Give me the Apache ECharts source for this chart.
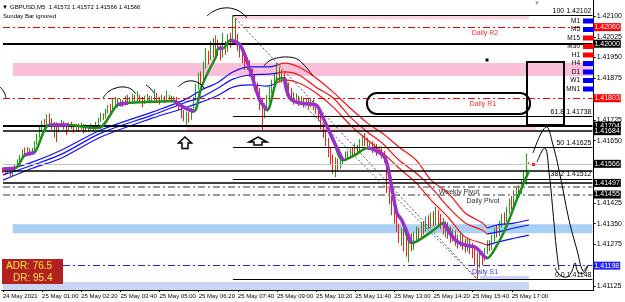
<!DOCTYPE html>
<html><head><meta charset="utf-8">
<script src="https://cdn.jsdelivr.net/npm/echarts@6/dist/echarts.min.js"></script>
<style>html,body{margin:0;padding:0;background:#fff}#c{width:625px;height:302px}</style>
</head><body><div id="c"></div>
<script>
// prices are stored in points (0.00001) above BASE
const BASE = 1.41;
const tickLabels = ["24 May 2021","25 May 01:00","25 May 02:20","25 May 03:40","25 May 05:00","25 May 06:20","25 May 07:40","25 May 09:00","25 May 10:20","25 May 11:40","25 May 13:00","25 May 14:20","25 May 15:40","25 May 17:00"];
const yTickValues = [1.42100,1.42025,1.41950,1.41875,1.41725,1.41650,1.41425,1.41350,1.41275,1.41125];
// [open, close, low, high]
const candles = [
[548,540,532,552],[540,535,525,546],[535,545,530,550],[545,530,520,548],[530,538,522,544],[538,560,535,566],[560,575,555,582],[575,590,568,598],[590,612,585,618],[612,605,596,625],
[605,618,600,626],[618,608,598,622],[608,615,600,624],[615,640,610,648],[640,668,635,675],[668,690,660,705],[690,715,682,722],[715,705,695,728],[705,735,700,745],[735,720,705,748],
[720,700,690,730],[700,712,660,718],[712,690,645,716],[690,705,680,712],[705,715,698,725],[715,700,690,720],[700,695,670,708],[695,708,688,715],[708,700,692,718],[700,690,678,706],
[690,702,684,710],[702,695,682,712],[695,705,688,716],[705,690,675,710],[690,698,680,708],[698,692,682,704],[692,700,686,712],[700,695,684,706],[695,710,690,718],[710,725,705,732],
[725,740,718,750],[740,735,725,748],[735,755,730,765],[755,770,748,778],[770,762,750,782],[762,785,758,800],[785,795,778,808],[795,780,770,802],[780,790,772,800],[790,782,772,796],
[782,800,778,812],[800,790,780,815],[790,798,785,808],[798,805,790,820],[805,795,785,815],[795,808,790,828],[808,800,788,815],[800,790,770,808],[790,798,782,812],[798,805,792,818],
[805,792,785,812],[792,800,785,810],[800,810,795,835],[810,798,790,822],[798,795,780,808],[795,805,790,815],[805,795,785,812],[795,800,788,830],[800,806,792,815],[806,795,788,812],
[795,802,790,810],[802,785,775,808],[785,770,760,790],[770,755,730,775],[755,740,720,760],[740,748,705,755],[748,735,715,752],[735,760,725,768],[760,800,755,808],[800,845,795,855],
[845,880,835,895],[880,870,850,900],[870,920,865,935],[920,960,910,985],[960,945,925,975],[945,985,940,1010],[985,970,950,1020],[970,1000,960,1030],[1000,975,955,1015],[975,960,940,1000],
[960,990,950,1040],[990,975,960,1010],[975,1010,970,1035],[1010,1000,985,1040],[1000,1080,995,1102],[1080,1020,1010,1090],[1020,990,975,1035],[990,965,950,1000],[965,950,930,975],[950,925,905,960],
[925,935,905,950],[935,900,880,940],[900,880,860,910],[880,850,830,890],[850,830,800,860],[830,790,760,840],[790,740,688,800],[740,770,730,785],[770,800,765,815],[800,830,790,845],
[830,850,820,870],[850,875,840,890],[875,900,865,930],[900,880,860,915],[880,890,860,905],[890,860,845,895],[860,850,830,870],[850,825,810,860],[825,810,790,840],[810,795,780,825],
[795,805,785,820],[805,790,775,812],[790,798,780,810],[798,785,770,805],[785,792,775,802],[792,780,765,800],[780,790,770,805],[790,775,760,798],[775,760,745,785],[760,740,720,770],
[740,700,690,750],[700,680,660,710],[680,650,630,690],[650,610,590,660],[610,580,560,625],[580,560,530,600],[560,575,518,590],[575,555,540,585],[555,570,548,580],[570,585,565,595],
[585,600,575,610],[600,590,580,612],[590,610,585,622],[610,605,595,625],[605,625,600,640],[625,615,605,635],[615,640,610,655],[640,655,630,668],[655,645,630,677],[645,635,620,660],
[635,640,625,650],[640,620,605,648],[620,630,610,640],[630,610,595,638],[610,620,600,630],[620,600,585,628],[600,580,570,612],[580,470,460,590],[470,440,420,480],[440,410,380,450],
[410,370,350,420],[370,340,320,385],[340,300,280,350],[300,320,270,335],[320,280,250,330],[280,260,230,300],[260,300,210,310],[300,270,250,315],[270,300,255,320],[300,320,290,340],
[320,310,290,335],[310,340,300,355],[340,330,310,360],[330,360,320,375],[360,345,330,380],[345,370,335,390],[370,355,340,395],[355,380,345,410],[380,365,340,400],[365,350,330,385],
[350,335,310,370],[335,345,300,360],[345,320,295,355],[320,305,280,340],[305,315,285,330],[315,295,270,325],[295,285,260,310],[285,300,265,315],[300,280,255,310],[280,270,245,295],
[270,285,250,300],[285,265,240,295],[265,250,225,280],[250,230,200,265],[230,215,146,245],[215,240,190,255],[240,225,200,250],[225,250,215,262],[250,275,240,290],[275,265,250,290],
[265,295,255,310],[295,320,285,335],[320,310,300,345],[310,345,305,360],[345,370,335,385],[370,360,345,390],[360,395,355,410],[395,420,385,440],[420,410,400,450],[410,445,405,470],
[445,470,435,480],[470,460,450,490],[460,495,455,510],[495,520,485,540],[520,572,490,604],[572,566,566,572]
];
// fast moving average (green rising / purple falling)
const fastIdx = [0,5,9,13,19,27,33,39,47,51,60,70,74,78,81,84,87,88,90,93,97,101,105,108,112,115,117,121,128,130,135,139,144,149,152,156,158,161,163,167,170,176,180,185,189,193,197,198,202,206,210,215];
const fastVal = [547,550,598,608,706,706,700,695,780,786,790,793,770,755,840,900,952,984,984,1013,995,905,796,760,869,876,807,786,778,749,652,579,598,623,616,590,525,388,363,279,290,326,352,290,272,265,229,225,272,344,435,540];
const fastFalling = [[0,5],[9,13],[19,27],[47,51],[70,78],[88,90],[93,108],[115,139],[149,167],[180,198]];
// three-line envelope (blue / red)
const envIdx = [0,12,24,40,61,74,81,88,94,101,108,112,115,121,128,135,142,149,155,162,169,175,182,189,196,198,202,209,215];
const envTop = [540,572,616,688,753,796,832,861,898,916,916,922,930,916,876,825,767,713,677,626,579,507,460,388,352,334,345,352,363];
const envMid = [526,561,601,677,742,786,807,840,872,887,890,894,898,887,843,804,735,681,641,579,532,482,410,352,326,312,319,334,345];
const envBot = [507,550,587,663,731,767,789,814,843,851,847,858,869,858,822,771,706,652,608,550,496,435,373,301,279,272,283,297,308];
const envRedRange = [112,198];
// levels
const pivotNames = ["Daily R2","Daily R1","Weekly Pivot","Daily Pivot","Daily S1"];
const pivotValues = [1.42060,1.41803,1.41483,1.41455,1.41198];
const srValues = [1.42000,1.41704,1.41684,1.41540,1.41497];
const bidValue = 1.41566;
const fibPct = ["100","61.8","50","38.2","0.0"];
const fibValues = [1.42102,1.41738,1.41625,1.41512,1.41148];
const fibFrom = 94, fibHighIdx = 94, fibLowIdx = 194;
// zones: [fromIdx, toIdx, hi, lo]
const zonePinkTop = [94,215,1.42102,1.42088];
const zonePink = [4,241,1.41930,1.41883];
const zonePinkThin = [75,218,1.41703,1.41688];
const zoneBlue = [4,241,1.41348,1.41315];
const zoneLav1 = [195,215,1.41161,1.41148];
const zoneLav2 = [0,215,1.41139,1.41110];
const tfNames = ["M1","M5","M15","M30","H1","H4","D1","W1","MN1"];
const tfUp = [true,true,false,false,false,true,true,true,true];
const adrValue = "76.5", drValue = "95.4";

const N = 242;
const P = p => +(BASE + p/100000).toFixed(5);
const cats = [];
for (let i=0;i<N;i++){ const m = 23*60+40+5*i; const d = m>=1440?25:24; const mm=m%1440; cats.push(d+' May '+String(Math.floor(mm/60)).padStart(2,'0')+':'+String(mm%60).padStart(2,'0')); }
const FONT = 'Liberation Sans';
const pts = (ix, vals, a, b) => ix.map((x,i)=>[x,P(vals[i])]).filter(d=>d[0]>=a && d[0]<=b);

const series = [];
// zones
const zones = [[zonePinkTop,'#fbd3de'],[zonePink,'#fbc0d9'],[zonePinkThin,'#fcd3df'],[zoneBlue,'#a9cff5'],[zoneLav1,'#c8d5f4'],[zoneLav2,'#c8d5f4']];
series.push({type:'line', data:[], z:1, silent:true, markArea:{silent:true, data: zones.map(z=>[{coord:[z[0][0], z[0][2]], itemStyle:{color:z[1]}},{coord:[z[0][1], z[0][3]]}])}});
// candles
series.push({type:'candlestick', z:3, barWidth:1, data: candles.map(c=>c.map(P)),
  itemStyle:{color:'#1ba01b', color0:'#ff1a1a', borderColor:'#1ba01b', borderColor0:'#ff1a1a', borderWidth:1}});
// envelope
[envTop, envMid, envBot].forEach(arr=>{
  series.push({type:'line', z:4, symbol:'none', smooth:0.3, data: pts(envIdx, arr, 0, envRedRange[0]), lineStyle:{color:'#1010ff', width:1.2}});
  series.push({type:'line', z:4, symbol:'none', smooth:0.3, data: pts(envIdx, arr, envRedRange[0], envRedRange[1]), lineStyle:{color:'#ff1010', width:1.2}});
  series.push({type:'line', z:4, symbol:'none', smooth:0.3, data: pts(envIdx, arr, envRedRange[1], 999), lineStyle:{color:'#1010ff', width:1.2}});
});
// fast MA
series.push({type:'line', z:6, symbol:'none', smooth:0.3, data: pts(fastIdx, fastVal, 0, 999), lineStyle:{color:'#1a8f1a', width:2.5}});
fastFalling.forEach(r=>{
  series.push({type:'line', z:7, symbol:'none', smooth:0.3, data: pts(fastIdx, fastVal, r[0], r[1]), lineStyle:{color:'#9932cc', width:3.5}});
});
// level lines
const dashDot = [7,3,2,3];
const box = (txt,bg)=>({show:true, position:'end', distance:1, formatter:txt, color:'#fff', backgroundColor:bg, padding:[1,1,0,1], fontSize:7, fontFamily:FONT});
const ml = [];
const full = (v, lineStyle, label)=>[{coord:[0, v], lineStyle, label},{coord:[N-1, v]}];
const pivotStyle = [['#ff0000','#ff0000',1],['#ff0000','#ff0000',1],['#7a7a7a',null,1.5],['#7a7a7a','#000',1.5],['#2323ff','#2323ff',1]];
pivotValues.forEach((v,i)=>{
  ml.push(full(v, {color:pivotStyle[i][0], type:dashDot, width:pivotStyle[i][2]}, pivotStyle[i][1]?box(v.toFixed(5),pivotStyle[i][1]):{show:false}));
});
const srWidth = [2,2,1.5,1.5,1.5];
srValues.forEach((v,i)=>{
  ml.push(full(v, {color:'#000', type:'solid', width:srWidth[i]}, i===3?{show:false}:box(v.toFixed(5),'#000')));
});
ml.push(full(bidValue, {color:'#c4c4c4', type:'solid', width:1}, box(bidValue.toFixed(5),'#000')));
fibValues.forEach((v,i)=>{
  ml.push([{coord:[fibFrom, v], lineStyle:{color:'#000', type:'solid', width:1},
    label:{show:true, position:'insideEndTop', distance:1, formatter: fibPct[i]+' '+v.toFixed(5), color:'#000', fontSize:7, fontFamily:FONT}},
    {coord:[N-1, v]}]);
});
// fibo trend lines (dotted)
ml.push([{coord:[fibHighIdx, fibValues[0]], lineStyle:{color:'#555', type:[2,2], width:1}, label:{show:false}},{coord:[fibLowIdx, fibValues[4]]}]);
ml.push([{coord:[121, P(796)], lineStyle:{color:'#555', type:[2,2], width:1}, label:{show:false}},{coord:[fibLowIdx, fibValues[4]]}]);
series.push({type:'line', data:[], z:8, silent:true, markLine:{silent:true, symbol:['none','none'], animation:false, data: ml}});

const chart = echarts.init(document.getElementById('c'), null, {width:625, height:302});
const showTick = (i)=>i%16===0 && i/16<tickLabels.length;
chart.setOption({
  animation:false,
  backgroundColor:'#fff',
  grid:{left:0, right:27, top:0, bottom:12},
  xAxis:{type:'category', data:cats, boundaryGap:true,
    axisLine:{lineStyle:{color:'#000', width:1}},
    axisTick:{show:true, length:2, alignWithLabel:true, interval:showTick, lineStyle:{color:'#000'}},
    axisLabel:{interval:showTick, formatter:(v,i)=>tickLabels[i/16]||'', align:'left', fontSize:6, margin:3, color:'#000', fontFamily:FONT, hideOverlap:false},
    splitLine:{show:false}},
  yAxis:{type:'value', position:'right', min:1.41110, max:1.42158, scale:true,
    splitLine:{show:false},
    axisLine:{show:true, lineStyle:{color:'#000'}},
    axisTick:{show:true, length:2, customValues:yTickValues, lineStyle:{color:'#000'}},
    axisLabel:{customValues:yTickValues, formatter:v=>v.toFixed(5), fontSize:7, margin:3, color:'#000', fontFamily:FONT}},
  series
});

// annotations
const yPx = v => chart.convertToPixel({yAxisIndex:0}, v);
const g = [];
const txt = (x,y,t,opt)=>g.push({type:'text', x, y, z:100, style:Object.assign({text:t, fill:'#000', fontSize:7, fontFamily:FONT, align:'left', verticalAlign:'middle'}, opt||{})});
txt(2,7,'▼',{fontSize:6});
txt(10,7,'GBPUSD,M5  1.41572 1.41572 1.41566 1.41566',{fontSize:6});
txt(3,16,'Sunday Bar ignored',{fontSize:6});
txt(537,3,'▼',{fontSize:6, fill:'#999', align:'center'});
// pivot names
const pivotTextX = [485,483,459,483,485];
const pivotTextDy = [6,6,5,7,6];
const pivotTextCol = ['#ff2a2a','#ff2a2a','#333','#333','#3a3aff'];
pivotNames.forEach((n,i)=>txt(pivotTextX[i], yPx(pivotValues[i])+pivotTextDy[i], n, {align:'center', fill:pivotTextCol[i]}));
// timeframe legend
tfNames.forEach((n,i)=>{
  const y = 21 + i*8.5;
  txt(580, y, n, {align:'right', fontSize:6.5});
  g.push({type:'rect', z:100, shape:{x:583, y:y-2.5, width:11, height:5}, style:{fill: tfUp[i]?'#0000ff':'#ff0000'}});
});
// ADR box
g.push({type:'rect', z:100, shape:{x:2, y:259, width:61, height:25}, style:{fill:'#b3201f'}});
txt(6,266,'ADR: '+adrValue,{fill:'#ffe84a', fontSize:10});
txt(13,278,'DR: '+drValue,{fill:'#ffe84a', fontSize:10});
// hand-drawn sketches
const sketches = [
  [[0,87],[4,92],[6,98]],
  [[103,98],[108,92],[116,88],[124,87],[131,89],[136,94]],
  [[146,85],[150,88],[154,93]],
  [[178,87],[185,82],[193,81],[200,84],[205,89]],
  [[207,16],[214,11],[224,8],[234,9],[242,13],[247,18]],
  [[264,66],[269,61],[277,58],[287,57],[297,59],[305,66],[313,76]],
  [[533,153],[546,127],[553,145],[561,180],[569,220],[577,250],[583,271],[587,266]],
  [[537,162],[545,148],[549,172],[553,212],[556,245],[559,270]],
  [[555,268],[560,275],[567,277],[572,271],[575,263],[578,272],[584,273],[588,265]]
];
sketches.forEach(s=>g.push({type:'polyline', z:100, shape:{points:s, smooth:0.4}, style:{stroke:'#000', lineWidth:1, fill:null}}));
// hollow arrows
g.push({type:'polygon', z:100, shape:{points:[[185,137],[191.5,143],[188,143],[188,148.5],[182,148.5],[182,143],[178.5,143]]}, style:{fill:'#fff', stroke:'#000', lineWidth:1.5}});
g.push({type:'polygon', z:100, shape:{points:[[258,137],[267,142],[262,142],[262,145],[254,145],[254,142],[249,142]]}, style:{fill:'#fff', stroke:'#000', lineWidth:1.5}});
// boxes
g.push({type:'rect', z:100, shape:{x:367, y:93, width:163, height:21, r:10}, style:{fill:null, stroke:'#000', lineWidth:2}});
g.push({type:'rect', z:100, shape:{x:527, y:62, width:37, height:63}, style:{fill:null, stroke:'#000', lineWidth:2}});
g.push({type:'rect', z:100, shape:{x:485.5, y:58.5, width:3, height:3}, style:{fill:'#000'}});
g.push({type:'rect', z:100, shape:{x:532, y:163, width:3, height:3}, style:{fill:'#ff2020'}});
chart.setOption({graphic:g});
</script>
</body></html>
